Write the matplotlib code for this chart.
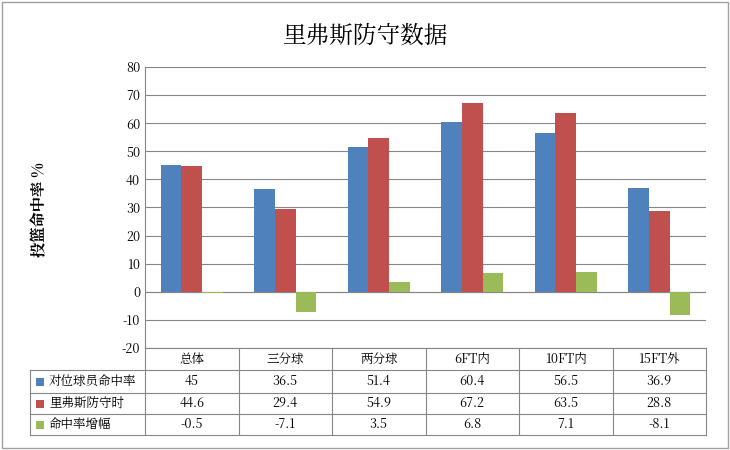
import matplotlib
matplotlib.use("Agg")
import matplotlib.pyplot as plt
from matplotlib import font_manager as fm
from matplotlib.lines import Line2D
from matplotlib.patches import Rectangle
import numpy as np

cjk = None
for f in fm.findSystemFonts():
    if "CJK" in f and ("SC" in f or "Regular" in f or ".ttc" in f):
        cjk = f
        break
fam = ['Noto Sans CJK SC', 'Noto Sans CJK JP', 'DejaVu Sans']
if cjk:
    fm.fontManager.addfont(cjk)
    fam = [fm.FontProperties(fname=cjk).get_name()] + fam
plt.rcParams['font.family'] = fam
plt.rcParams['axes.unicode_minus'] = False

categories = ["总体", "三分球", "两分球", "6FT内", "10FT内", "15FT外"]
series_names = ["对位球员命中率", "里弗斯防守时", "命中率增幅"]
opp = [45, 36.5, 51.4, 60.4, 56.5, 36.9]
rivers = [44.6, 29.4, 54.9, 67.2, 63.5, 28.8]
diff = [-0.5, -7.1, 3.5, 6.8, 7.1, -8.1]
colors = ["#4F81BD", "#C0504D", "#9BBB59"]
yticks = list(range(-20, 81, 10))

W, H = 730, 450
fig = plt.figure(figsize=(7.3, 4.5), dpi=100)
fig.patches.append(Rectangle((2/W, 2/H), 1-4/W, 1-4/H, transform=fig.transFigure,
                             fill=False, edgecolor="#A0A0A0", lw=1))
L, R, T, B = 145, 706, 67, 348
ax = fig.add_axes([L/W, 1-B/H, (R-L)/W, (B-T)/H])
x = np.arange(len(categories))
w = 0.22
for i, (vals, c) in enumerate(zip([opp, rivers, diff], colors)):
    ax.bar(x + (i-1)*w, vals, w, color=c, zorder=3)
ax.set_xlim(-0.5, len(categories)-0.5)
ax.set_ylim(-20, 80)
ax.set_yticks(yticks)
ax.tick_params(axis='y', labelsize=9, length=0)
ax.set_xticks([])
ax.grid(axis='y', color="#868686", lw=0.8, zorder=0)
for s in ['top', 'right', 'bottom']:
    ax.spines[s].set_visible(False)
ax.spines['left'].set_color("#868686")
ax.axhline(0, color="#868686", lw=0.8, zorder=2)

fig.text(365/W, 1-36/H, "里弗斯防守数据", fontsize=17, ha='center', va='center')
fig.text(40/W, 1-210/H, "投篮命中率 %", fontsize=11, fontweight='bold',
         rotation=90, ha='center', va='center')

lc = "#868686"
rows = [348, 370, 393, 414, 435]
colw = (R-L)/len(categories)
def hl(y, x0, x1):
    fig.add_artist(Line2D([x0/W, x1/W], [1-y/H, 1-y/H], color=lc, lw=0.8))
def vl(xx, y0, y1):
    fig.add_artist(Line2D([xx/W, xx/W], [1-y0/H, 1-y1/H], color=lc, lw=0.8))
hl(348, L, R)
for y in rows[1:]:
    hl(y, 30, R)
vl(30, 370, 435)
for j in range(len(categories)+1):
    vl(L + j*colw, 348, 435)
for j, c in enumerate(categories):
    fig.text((L+(j+0.5)*colw)/W, 1-359/H, c, fontsize=9, ha='center', va='center')
for r, (name, vals, col) in enumerate(zip(series_names, [opp, rivers, diff], colors)):
    yc = (rows[r+1]+rows[r+2])/2
    fig.patches.append(Rectangle((36/W, 1-(yc+4)/H), 8/W, 8/H, transform=fig.transFigure,
                                 facecolor=col, edgecolor='none'))
    fig.text(49/W, 1-yc/H, name, fontsize=9, ha='left', va='center')
    for j, v in enumerate(vals):
        fig.text((L+(j+0.5)*colw)/W, 1-yc/H, f"{v:g}", fontsize=9, ha='center', va='center')

fig.savefig("out.png", dpi=100)
